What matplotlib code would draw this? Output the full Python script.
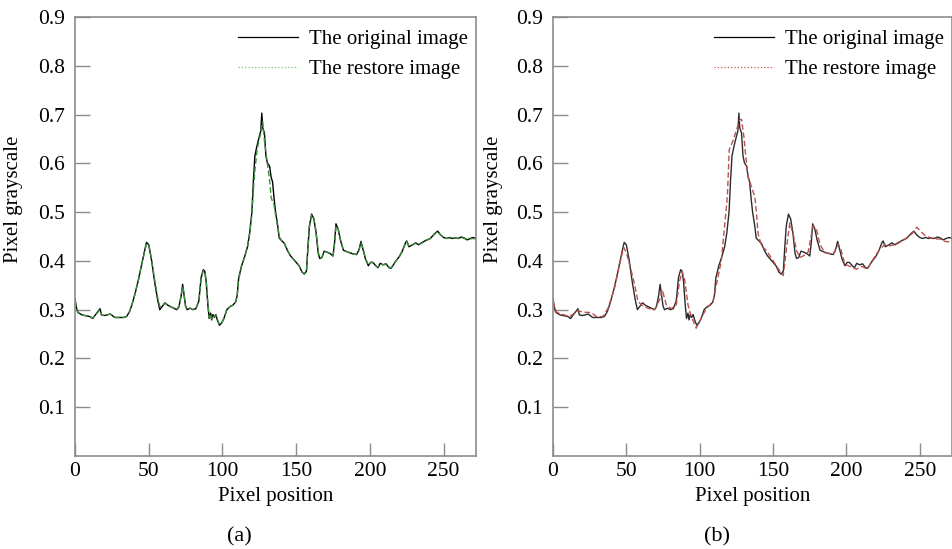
import numpy as np
import matplotlib
matplotlib.use("Agg")
import matplotlib.pyplot as plt
from matplotlib.lines import Line2D

plt.rcParams['font.family'] = ['Liberation Serif', 'DejaVu Serif']
plt.rcParams['font.size'] = 15

# original profile (same in both panels)
orig_x = [0, 1, 2, 5, 10, 12, 13, 17, 18, 20, 24, 27, 30, 33, 35, 37, 39, 41, 43, 45,
          47, 48.5, 50, 52, 54, 56, 57.5, 59, 61, 63, 65, 67, 69, 70.5, 72, 73, 74, 75,
          76, 78, 80, 82, 84, 85.5, 87, 88, 89, 90, 91, 92, 92.7, 93.5, 94.5, 95.5, 96.5,
          98, 99.5, 101, 103, 105, 107, 109, 110, 111, 113, 115, 117, 118.5, 120, 121,
          122, 123.5, 125, 126, 126.7, 127.3, 128.5, 129.5, 130.5, 132, 133, 134, 135,
          136, 137.5, 138.5, 140, 142, 144, 146, 148, 150, 152, 154, 155.5, 157, 158,
          159, 160.5, 162, 163.5, 165, 166, 167.5, 169, 171, 173, 175, 176, 177, 178.5,
          180, 182, 185, 188, 191, 192.5, 194, 195.5, 197, 199, 200.5, 202, 204, 205.5,
          207, 209, 211, 213, 214.5, 217, 220, 222, 224, 225, 226.5, 229, 231, 233, 235,
          238, 241, 244, 246, 248, 250, 252, 254, 256, 258, 260, 262, 264, 266, 268, 270,
          272]
orig_y = [0.322, 0.304, 0.294, 0.289, 0.286, 0.282, 0.286, 0.302, 0.289, 0.288, 0.291,
          0.284, 0.284, 0.284, 0.286, 0.296, 0.314, 0.336, 0.361, 0.390,
          0.418, 0.438, 0.433, 0.400, 0.357, 0.321, 0.300, 0.306, 0.314, 0.309, 0.306,
          0.303, 0.300, 0.306, 0.329, 0.352, 0.329, 0.307,
          0.300, 0.303, 0.300, 0.302, 0.318, 0.365, 0.382, 0.379, 0.357, 0.314, 0.282,
          0.293, 0.279, 0.290, 0.284, 0.290, 0.279,
          0.268, 0.273, 0.282, 0.300, 0.306, 0.309, 0.316, 0.329, 0.365, 0.390, 0.408,
          0.429, 0.458, 0.501, 0.565,
          0.615, 0.637, 0.655, 0.666, 0.703, 0.673, 0.662, 0.615, 0.601, 0.594, 0.572,
          0.562, 0.529,
          0.501, 0.472, 0.447, 0.442, 0.436, 0.422, 0.411, 0.404, 0.397, 0.390, 0.377,
          0.373, 0.379, 0.429,
          0.472, 0.496, 0.486, 0.458, 0.415, 0.405, 0.407, 0.420, 0.418, 0.415, 0.410,
          0.436, 0.476, 0.465,
          0.443, 0.422, 0.418, 0.415, 0.413, 0.422, 0.440, 0.422, 0.404, 0.390, 0.397,
          0.397, 0.390, 0.386,
          0.395, 0.392, 0.394, 0.386, 0.385, 0.397, 0.409, 0.420, 0.436, 0.441, 0.429,
          0.433, 0.437, 0.433, 0.437,
          0.442, 0.446, 0.456, 0.461, 0.453, 0.448, 0.446, 0.448, 0.446, 0.447, 0.446,
          0.449, 0.447, 0.443, 0.446, 0.448,
          0.446]

# restored profile, panel (a) (same sample positions as the original)
restore_a_y = [0.318, 0.303, 0.294, 0.289, 0.286, 0.283, 0.286, 0.300, 0.289, 0.288, 0.291,
               0.284, 0.284, 0.284, 0.286, 0.296, 0.314, 0.336, 0.361, 0.390,
               0.416, 0.436, 0.433, 0.402, 0.362, 0.326, 0.306, 0.308, 0.314, 0.309, 0.306,
               0.303, 0.300, 0.306, 0.329, 0.348, 0.331, 0.308,
               0.301, 0.303, 0.300, 0.302, 0.318, 0.362, 0.380, 0.379, 0.360, 0.318, 0.284,
               0.291, 0.281, 0.289, 0.285, 0.289, 0.281,
               0.269, 0.273, 0.282, 0.300, 0.306, 0.309, 0.316, 0.329, 0.362, 0.390, 0.408,
               0.429, 0.456, 0.495, 0.545,
               0.585, 0.628, 0.650, 0.662, 0.680, 0.685, 0.645, 0.622, 0.600, 0.565, 0.530,
               0.522, 0.515,
               0.495, 0.470, 0.450, 0.442, 0.436, 0.422, 0.411, 0.404, 0.397, 0.390, 0.377,
               0.374, 0.380, 0.425,
               0.470, 0.494, 0.487, 0.460, 0.418, 0.406, 0.408, 0.420, 0.418, 0.415, 0.411,
               0.434, 0.472, 0.466,
               0.445, 0.422, 0.418, 0.415, 0.413, 0.421, 0.437, 0.423, 0.405, 0.391, 0.397,
               0.396, 0.390, 0.387,
               0.394, 0.392, 0.393, 0.387, 0.386, 0.397, 0.409, 0.420, 0.435, 0.440, 0.430,
               0.433, 0.436, 0.433, 0.436,
               0.442, 0.446, 0.455, 0.460, 0.453, 0.448, 0.446, 0.447, 0.446, 0.447, 0.446,
               0.448, 0.446, 0.444, 0.445, 0.446,
               0.445]

# restored profile, panel (b)
restore_b_x = [0, 2.3, 6.8, 11.4, 17, 20.4, 26, 29.5, 34, 37.5, 42, 45.4, 48.1, 50, 53.4,
               55.6, 57.9, 61.3, 65.8, 69.3, 72.7, 74.5, 77.2, 80.6, 84, 86.3, 88.1, 89.7,
               92, 94.2, 97.6, 101, 104.5, 109, 112.4, 114.7, 116, 118.8, 119.5, 120.1,
               122.9, 125.1, 127.4, 128.5, 130.1, 131.4, 133, 135.3, 137.6, 138.7, 139.8,
               142.1, 145.5, 150.1, 154.6, 156.9, 158, 159.2, 161.4, 163.7, 166, 168.2,
               170.5, 173.9, 177.3, 179.6, 181.9, 185.3, 191, 194.4, 196.2, 198.9, 202.3,
               206.9, 210.3, 214.2, 218.3, 222.8, 226.3, 229.7, 234.2, 239.9, 244.5,
               247.9, 250.2, 253.6, 259.3, 263.8, 267.2, 272]
restore_b_y = [0.316, 0.295, 0.290, 0.286, 0.298, 0.295, 0.294, 0.286, 0.286, 0.303, 0.345,
               0.393, 0.428, 0.417, 0.379,
               0.352, 0.317, 0.307, 0.302, 0.300, 0.321, 0.341, 0.310, 0.302, 0.310, 0.359,
               0.378, 0.362,
               0.310, 0.286, 0.262, 0.283, 0.302, 0.317, 0.366, 0.400, 0.441, 0.531, 0.580,
               0.628,
               0.648, 0.669, 0.690, 0.690, 0.655, 0.614, 0.572, 0.552, 0.531, 0.497, 0.455,
               0.431, 0.421, 0.400, 0.379, 0.370, 0.395, 0.428, 0.478, 0.455, 0.421, 0.407,
               0.410, 0.418, 0.472, 0.465, 0.434, 0.417, 0.414, 0.434, 0.424, 0.393, 0.389,
               0.383, 0.389, 0.383, 0.404, 0.424, 0.434, 0.431, 0.434, 0.445, 0.455,
               0.469, 0.462, 0.452, 0.445, 0.445, 0.440, 0.438]

y_ticks = [0.1, 0.2, 0.3, 0.4, 0.5, 0.6, 0.7, 0.8, 0.9]
x_ticks = [0, 50, 100, 150, 200, 250]
labels = ["The original image", "The restore image"]

green = '#3a8f3a'
red = '#c0504d'
axis_grey = '#8c8c8c'

fig = plt.figure(figsize=(9.53, 5.49), dpi=100)
ax_a = fig.add_axes([0.0787, 0.1694, 0.4208, 0.7996])
ax_b = fig.add_axes([0.5803, 0.1694, 0.4187, 0.7996])


def style_axes(ax, ylab_x):
    ax.set_xlim(0, 272)
    ax.set_ylim(0, 0.9)
    ax.set_yticks(y_ticks)
    ax.set_xticks(x_ticks)
    ax.set_yticklabels([f"{v:.1f}" for v in y_ticks])
    for s in ax.spines.values():
        s.set_color(axis_grey)
        s.set_linewidth(1.2)
    ax.tick_params(axis='y', direction='in', length=10.8, width=1, color=axis_grey,
                   pad=7, labelsize=15.5)
    ax.tick_params(axis='x', direction='in', length=9.6, width=1, color=axis_grey,
                   pad=4.5, labelsize=15.5)
    ax.set_xlabel("Pixel position", labelpad=4)
    ax.set_ylabel("Pixel grayscale")
    ax.yaxis.set_label_coords(ylab_x, 0.585)


# panel (a)
ax_a.plot(orig_x, orig_y, color='black', lw=1.0)
ax_a.plot(orig_x, restore_a_y, color=green, lw=1.0, ls=(0, (4, 2)))
style_axes(ax_a, -0.13)
handles_a = [Line2D([], [], color='black', lw=0.9),
             Line2D([], [], color='#7cc47c', lw=0.9, ls=':')]
ax_a.legend(handles_a, labels, loc='upper right', bbox_to_anchor=(1.0, 0.99),
            frameon=False, handlelength=2.9, handletextpad=0.5, borderaxespad=0.0,
            labelspacing=0.5, fontsize=15)

# panel (b)
ax_b.plot(orig_x, orig_y, color='#2b2b2b', lw=1.0)
ax_b.plot(restore_b_x, restore_b_y, color=red, lw=1.0, ls=(0, (4, 2)))
style_axes(ax_b, -0.125)
handles_b = [Line2D([], [], color='black', lw=0.9),
             Line2D([], [], color=red, lw=0.9, ls=':')]
ax_b.legend(handles_b, labels, loc='upper right', bbox_to_anchor=(1.0, 0.99),
            frameon=False, handlelength=2.9, handletextpad=0.5, borderaxespad=0.0,
            labelspacing=0.5, fontsize=15)

fig.text(239 / 953, 1 - 537 / 549, "(a)", ha='center', va='center', fontsize=16)
fig.text(717 / 953, 1 - 537 / 549, "(b)", ha='center', va='center', fontsize=16)

fig.savefig("out.png", dpi=100)
